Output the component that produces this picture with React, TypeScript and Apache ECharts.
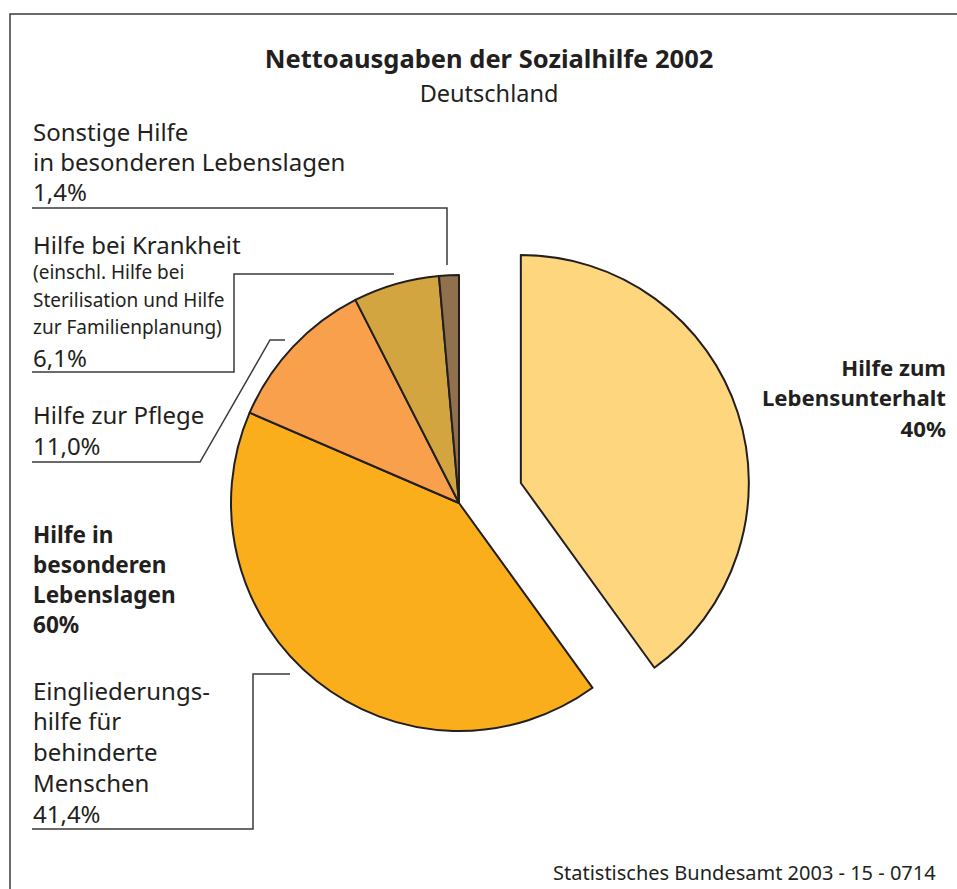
import React, { useEffect, useRef } from "react";
import * as echarts from "echarts";

const sliceNames = [
  "Hilfe zum Lebensunterhalt",
  "Eingliederungshilfe für behinderte Menschen",
  "Hilfe zur Pflege",
  "Hilfe bei Krankheit",
  "Sonstige Hilfe in besonderen Lebenslagen",
];
const sliceValues = [40, 41.4, 11.0, 6.1, 1.4];
const sliceColors = ["#FED67E", "#FBAE1B", "#F8A04B", "#D3A541", "#8F714E"];

const titleText = "Nettoausgaben der Sozialhilfe 2002";
const subtitleText = "Deutschland";
const sourceText = "Statistisches Bundesamt 2003 - 15 - 0714";

const sonstigeLines = ["Sonstige Hilfe", "in besonderen Lebenslagen", "1,4%"];
const krankheitHead = "Hilfe bei Krankheit";
const krankheitSub = ["(einschl. Hilfe bei", "Sterilisation und Hilfe", "zur Familienplanung)"];
const krankheitPct = "6,1%";
const pflegeLines = ["Hilfe zur Pflege", "11,0%"];
const besondereLines = ["Hilfe in", "besonderen", "Lebenslagen", "60%"];
const eingliederungLines = ["Eingliederungs-", "hilfe für", "behinderte", "Menschen", "41,4%"];
const unterhaltLines = ["Hilfe zum", "Lebensunterhalt", "40%"];

const FONT = '"Noto Sans", sans-serif';
const TXT = "#231F20";
const LINE = "#3a3a3a";

function txt(text: string, x: number, y: number, size: number, bold = false, align = "left") {
  return {
    type: "text",
    x,
    y,
    silent: true,
    style: {
      text,
      font: `${bold ? "bold " : ""}${size}px ${FONT}`,
      fill: TXT,
      textAlign: align,
      textVerticalAlign: "middle",
      align,
      verticalAlign: "middle",
    },
  };
}

function pline(points: number[][]) {
  return {
    type: "polyline",
    silent: true,
    shape: { points },
    style: { stroke: LINE, fill: "none", lineWidth: 1.5 },
  };
}

export default function App() {
  const ref = useRef<HTMLDivElement>(null);
  useEffect(() => {
    if (!ref.current) return;
    const chart = echarts.init(ref.current, null, { renderer: "svg" });
    const graphics: any[] = [];
    // frame
    graphics.push(pline([[10, 889], [10, 14], [957, 14]]));
    graphics.push(txt(titleText, 489, 58, 25.5, true, "center"));
    graphics.push(txt(subtitleText, 489, 93, 23.5, false, "center"));

    sonstigeLines.forEach((t, i) => graphics.push(txt(t, 33, 131 + i * 30, 24)));
    graphics.push(pline([[32, 208], [447, 208], [447, 265]]));

    graphics.push(txt(krankheitHead, 33, 244, 24));
    krankheitSub.forEach((t, i) => graphics.push(txt(t, 33, 272 + i * 27.5, 19)));
    graphics.push(txt(krankheitPct, 33, 357, 24));
    graphics.push(pline([[32, 372], [234, 372], [234, 274], [394, 274]]));

    pflegeLines.forEach((t, i) => graphics.push(txt(t, 33, 414 + i * 31, 24)));
    graphics.push(pline([[32, 462], [200, 462], [270, 340], [285, 340]]));

    besondereLines.forEach((t, i) => graphics.push(txt(t, 33, 534 + i * 30, 22.6, true)));

    eingliederungLines.forEach((t, i) => graphics.push(txt(t, 33, 690 + i * 30.8, 24)));
    graphics.push(pline([[32, 829], [253, 829], [253, 674], [290, 674]]));

    unterhaltLines.forEach((t, i) => graphics.push(txt(t, 946, 367 + i * 30.5, 22.2, true, "right")));

    graphics.push(txt(sourceText, 553, 872, 20));

    chart.setOption({
      animation: false,
      backgroundColor: "#ffffff",
      graphic: graphics,
      series: [
        {
          type: "pie",
          center: [459, 503],
          radius: 228,
          startAngle: 90,
          clockwise: true,
          selectedMode: "single",
          selectedOffset: 65,
          label: { show: false },
          labelLine: { show: false },
          emphasis: { disabled: true },
          itemStyle: { borderColor: "#231F20", borderWidth: 2 },
          data: sliceNames.map((n, i) => ({
            name: n,
            value: sliceValues[i],
            selected: i === 0,
            itemStyle: { color: sliceColors[i] },
          })),
        },
      ],
    });
    return () => chart.dispose();
  }, []);
  return (
    <div
      ref={ref}
      style={{ position: "fixed", left: 0, top: 0, width: 957, height: 889, background: "#fff" }}
    />
  );
}
